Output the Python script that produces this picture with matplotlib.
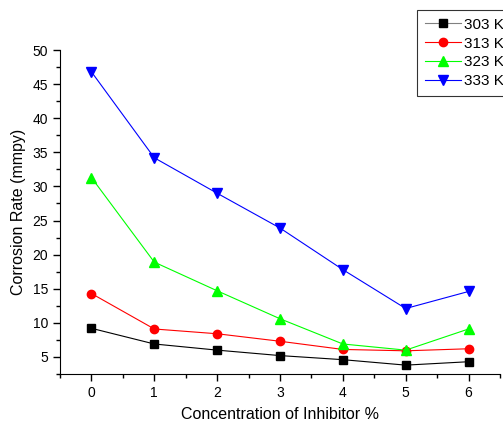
import matplotlib
matplotlib.use("Agg")
import matplotlib.pyplot as plt
from matplotlib.ticker import MultipleLocator

plt.rcParams['font.family'] = ['Liberation Sans', 'DejaVu Sans']

conc = [0, 1, 2, 3, 4, 5, 6]
cr_303 = [9.2, 6.9, 6.0, 5.2, 4.6, 3.8, 4.3]
cr_313 = [14.3, 9.1, 8.4, 7.3, 6.1, 5.9, 6.2]
cr_323 = [31.3, 18.9, 14.7, 10.6, 6.9, 6.0, 9.1]
cr_333 = [46.8, 34.2, 29.0, 23.9, 17.8, 12.1, 14.6]

W, H = 503, 425
fig = plt.figure(figsize=(W / 100, H / 100), dpi=100)
ax = fig.add_axes([60 / W, 1 - 374 / H, 440 / W, 324 / H])

ax.plot(conc, cr_303, '-s', color='black', lw=0.8, ms=6, label='303 K')
ax.plot(conc, cr_313, '-o', color='red', lw=0.8, ms=6, label='313 K')
ax.plot(conc, cr_323, '-^', color='#00ff00', lw=0.8, ms=7, label='323 K')
ax.plot(conc, cr_333, '-v', color='blue', lw=0.8, ms=7, label='333 K')

ax.set_xlim(-0.5, 6.5)
ax.set_ylim(2.5, 50)
ax.xaxis.set_major_locator(MultipleLocator(1))
ax.xaxis.set_minor_locator(MultipleLocator(0.5))
ax.yaxis.set_minor_locator(MultipleLocator(2.5))
ax.set_yticks([5, 10, 15, 20, 25, 30, 35, 40, 45, 50])
ax.tick_params(which='major', length=5, width=1, labelsize=10, direction='out')
ax.tick_params(which='minor', length=3, width=1, direction='out')
for s in ['top', 'right']:
    ax.spines[s].set_visible(False)

ax.set_xlabel('Concentration of Inhibitor %', fontsize=11.5, labelpad=5)
ax.set_ylabel('Corrosion Rate (mmpy)', fontsize=11.5, labelpad=5)

leg = fig.legend(loc='upper left', bbox_to_anchor=(417 / W, 1 - 10 / H),
                 fontsize=11, frameon=True, fancybox=False, handlelength=2.35,
                 handletextpad=0.25, borderpad=0.5, labelspacing=0.32,
                 borderaxespad=0)
leg.get_frame().set_edgecolor('black')
leg.get_frame().set_linewidth(0.8)
leg.get_lines()[0].set_color('grey')
leg.get_lines()[0].set_markerfacecolor('black')
leg.get_lines()[0].set_markeredgecolor('black')

fig.savefig('out.png', dpi=100)
